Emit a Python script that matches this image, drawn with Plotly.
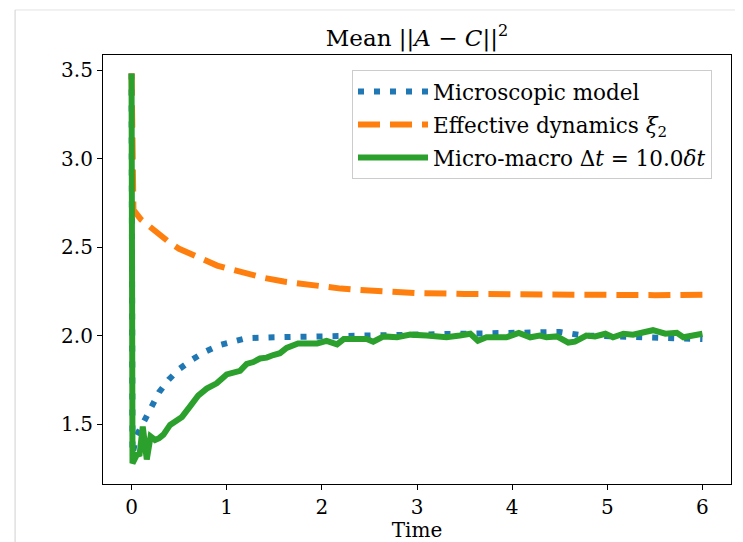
import plotly.graph_objects as go

# Microscopic model
t_micro = [0, 0.01, 0.05, 0.125, 0.21, 0.29, 0.39, 0.50, 0.64, 0.78, 0.92, 1.07, 1.21,
           1.5, 2.0, 2.5, 3.0, 3.5, 3.75, 4.0, 4.25, 4.5, 4.75, 5.0, 5.25, 5.5, 5.75, 6.0]
v_micro = [3.48, 1.33, 1.43, 1.51, 1.60, 1.68, 1.75, 1.81, 1.865, 1.91, 1.945, 1.97, 1.985,
           1.99, 1.995, 2.0, 2.005, 2.01, 2.015, 2.02, 2.02, 2.02, 2.0, 1.995, 1.99, 1.985, 1.985, 1.98]

# Effective dynamics xi_2
t_eff = [0, 0.02, 0.1, 0.2, 0.3, 0.4, 0.5, 0.6, 0.7, 0.8, 0.9, 1.0, 1.2, 1.4, 1.6, 1.8,
         2.0, 2.2, 2.4, 2.6, 2.8, 3.0, 3.5, 4.0, 4.5, 5.0, 5.5, 6.0]
v_eff = [3.48, 2.71, 2.655, 2.61, 2.565, 2.525, 2.49, 2.465, 2.44, 2.415, 2.395, 2.38, 2.35,
         2.325, 2.305, 2.29, 2.275, 2.265, 2.257, 2.25, 2.245, 2.24, 2.235, 2.232, 2.227,
         2.225, 2.228, 2.23]

# Micro-macro, Delta t = 10 delta t
t_mm = [0, 0.01, 0.055, 0.085, 0.118, 0.16, 0.20, 0.247, 0.29, 0.335, 0.405, 0.47, 0.53,
        0.615, 0.70, 0.79, 0.895, 1.0, 1.09, 1.14, 1.21, 1.28, 1.35, 1.42, 1.49, 1.56, 1.63,
        1.69, 1.75, 1.85, 1.95, 2.05, 2.16, 2.23, 2.35, 2.47, 2.54, 2.65, 2.79, 2.93, 3.10,
        3.2, 3.31, 3.45, 3.56, 3.64, 3.73, 3.85, 3.94, 4.07, 4.19, 4.29, 4.36, 4.47, 4.59,
        4.66, 4.78, 4.87, 4.98, 5.06, 5.17, 5.27, 5.38, 5.48, 5.61, 5.73, 5.80, 5.91, 6.0]
v_mm = [3.48, 1.278, 1.325, 1.33, 1.485, 1.30, 1.43, 1.41, 1.42, 1.44, 1.495, 1.52, 1.54,
        1.60, 1.66, 1.70, 1.73, 1.78, 1.79, 1.80, 1.84, 1.85, 1.87, 1.875, 1.89, 1.90, 1.93,
        1.94, 1.955, 1.955, 1.955, 1.97, 1.95, 1.98, 1.98, 1.98, 1.965, 1.995, 1.99, 2.005,
        2.00, 1.995, 1.99, 2.00, 2.01, 1.97, 1.99, 1.99, 1.99, 2.015, 1.99, 2.0, 1.99, 1.995,
        1.96, 1.965, 2.0, 1.995, 2.01, 1.99, 2.01, 2.005, 2.015, 2.03, 2.01, 2.015, 1.99,
        2.005, 2.01]

x_ticks = [0, 1, 2, 3, 4, 5, 6]
y_ticks = [1.5, 2.0, 2.5, 3.0, 3.5]

FONT = "DejaVu Serif"

fig = go.Figure()
fig.add_trace(go.Scatter(x=t_micro, y=v_micro, mode="lines", name="Microscopic model",
                         legendgroup="a",
                         line=dict(color="#1f77b4", width=6, dash="6px,10px")))
fig.add_trace(go.Scatter(x=t_eff, y=v_eff, mode="lines",
                         name="Effective dynamics <i>ξ</i><sub>2</sub>", legendgroup="b",
                         line=dict(color="#ff7f0e", width=6, dash="22px,10px")))
fig.add_trace(go.Scatter(x=t_mm, y=v_mm, mode="lines",
                         name="Micro-macro Δ<i>t</i> = 10.0<i>δt</i>", legendgroup="c",
                         line=dict(color="#2ca02c", width=6)))

axis_common = dict(showline=True, linecolor="black", linewidth=1.2, mirror=True,
                   ticks="outside", ticklen=5, tickwidth=1.2, tickcolor="black",
                   showgrid=False, zeroline=False, automargin=False,
                   tickfont=dict(family=FONT, size=20, color="black"))

# page body has an 8px margin: figure is 735x534 so the plot area lands at (103..731, 55..484)
W, H = 735, 534
L, T = 95, 47
PW, PH = 628, 429

fig.update_layout(
    width=W, height=H,
    margin=dict(l=L, r=W - L - PW, t=T, b=H - T - PH, autoexpand=False),
    paper_bgcolor="white", plot_bgcolor="white",
    font=dict(family=FONT, color="black"),
    title=dict(text="Mean ||<i>A</i> − <i>C</i>||<sup>2</sup>", x=(L + PW / 2) / W,
               xanchor="center", y=1 - 30 / H, yanchor="middle", yref="container",
               font=dict(family=FONT, size=23, color="black")),
    xaxis=dict(range=[-0.3, 6.3], tickvals=x_ticks,
               title=dict(text="Time", font=dict(family=FONT, size=20, color="black"),
                          standoff=2),
               **axis_common),
    yaxis=dict(range=[1.161, 3.585], tickvals=y_ticks, tickformat=".1f", **axis_common),
    legend=dict(x=0.3965, y=0.965, xanchor="left", yanchor="top",
                bgcolor="rgba(255,255,255,0.8)", bordercolor="#cccccc", borderwidth=1,
                font=dict(family=FONT, size=21.5, color="black"), itemwidth=70,
                tracegroupgap=2),
    showlegend=True,
    shapes=[
        dict(type="line", xref="paper", yref="paper", x0=-0.14, x1=1.02, y0=1.105, y1=1.105,
             line=dict(color="#e3e3e3", width=1)),
        dict(type="line", xref="paper", yref="paper", x0=-0.14, x1=-0.14, y0=-0.14, y1=1.105,
             line=dict(color="#d0d0d0", width=1)),
    ],
)

fig.write_html("out.html")
